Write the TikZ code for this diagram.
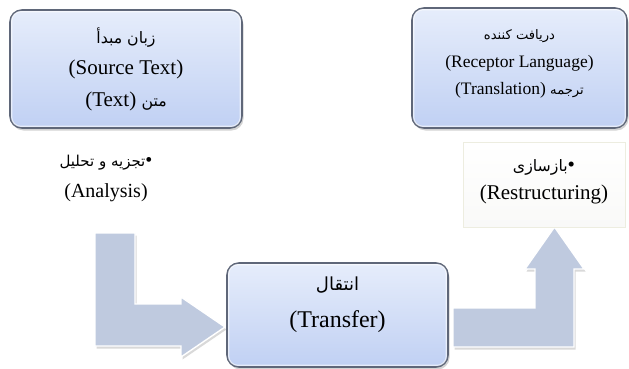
\documentclass[tikz,border=0pt]{standalone}
\usepackage{fontspec}
\setmainfont{Liberation Serif}
\newfontfamily\arabicfont[Script=Arabic,Scale=0.75]{DejaVu Sans}
\TeXXeTstate=1
\usetikzlibrary{shadows}
\definecolor{boxtop}{HTML}{E6EDFB}
\definecolor{boxbot}{HTML}{C0D0F3}
\definecolor{boxline}{HTML}{5F6779}
\definecolor{arrowfill}{HTML}{BFCADF}
\definecolor{restline}{HTML}{EDEDE0}
\definecolor{restbot}{HTML}{F9F9F8}
\newcommand\fa[1]{{\arabicfont\beginR #1\endR}}
\tikzset{
  glossbox/.style={rounded corners=12pt, draw=boxline, line width=1.6pt,
    top color=boxtop, bottom color=boxbot, inner sep=0pt,
    drop shadow={opacity=0.35, shadow xshift=1.5pt, shadow yshift=-2.5pt}},
  gloss/.style={rounded corners=9pt, draw=white, line width=1.2pt, opacity=0.6},
  restbox/.style={draw=restline, line width=1pt, top color=white, bottom color=restbot, inner sep=0pt},
  blockarrow/.style={fill=arrowfill, draw=white, line width=1.4pt,
    drop shadow={opacity=0.3, shadow xshift=1.5pt, shadow yshift=-2.5pt}},
  plain/.style={align=center, inner sep=0pt}
}
\begin{document}
\begin{tikzpicture}[x=1pt,y=-1pt]
\useasboundingbox (0,0) rectangle (629,368);
% block arrows
\draw[blockarrow] (95,233) -- (135,233) -- (135,304) -- (181,304) -- (181,297)
  -- (225,327) -- (181,357) -- (181,346) -- (95,346) -- cycle;
\draw[blockarrow] (453,308) -- (535,308) -- (535,269) -- (525,269) -- (554.5,227)
  -- (584,269) -- (574,269) -- (574,347) -- (453,347) -- cycle;
% boxes
\node[glossbox, minimum width=232pt, minimum height=118pt] (src) at (126,69) {};
\node[glossbox, minimum width=215pt, minimum height=120pt] (rec) at (519.5,68) {};
\node[glossbox, minimum width=221pt, minimum height=104pt] (trans) at (337.5,315) {};
\node[restbox, minimum width=162pt, minimum height=85pt] (rest) at (544,184.5) {};
\foreach \b in {src,rec,trans}
  \draw[gloss] ([shift={(2.5pt,-2.5pt)}]\b.north west) rectangle ([shift={(-2.5pt,2.5pt)}]\b.south east);
% texts
\node[plain, font=\fontsize{21}{31.5}\selectfont] (srct) at (src.center)
  {\fa{زبان مبدأ}\\(Source Text)\\(Text) \fa{متن}};
\node[plain, font=\fontsize{17.5}{27.5}\selectfont] (rect) at ([yshift=4pt]rec.center)
  {\fa{دریافت کننده}\\(Receptor Language)\\(Translation) \fa{ترجمه}};
\node[plain, font=\fontsize{24}{37}\selectfont] (transt) at ([yshift=10pt]trans.center)
  {\fa{انتقال}\\(Transfer)};
\node[plain, font=\fontsize{20}{31}\selectfont] (anal) at (106,178)
  {\fa{تجزیه و تحلیل}•\\(Analysis)};
\node[plain, font=\fontsize{21}{28}\selectfont] (restt) at ([yshift=3pt]rest.center)
  {\fa{بازسازی}•\\(Restructuring)};
\end{tikzpicture}
\end{document}
